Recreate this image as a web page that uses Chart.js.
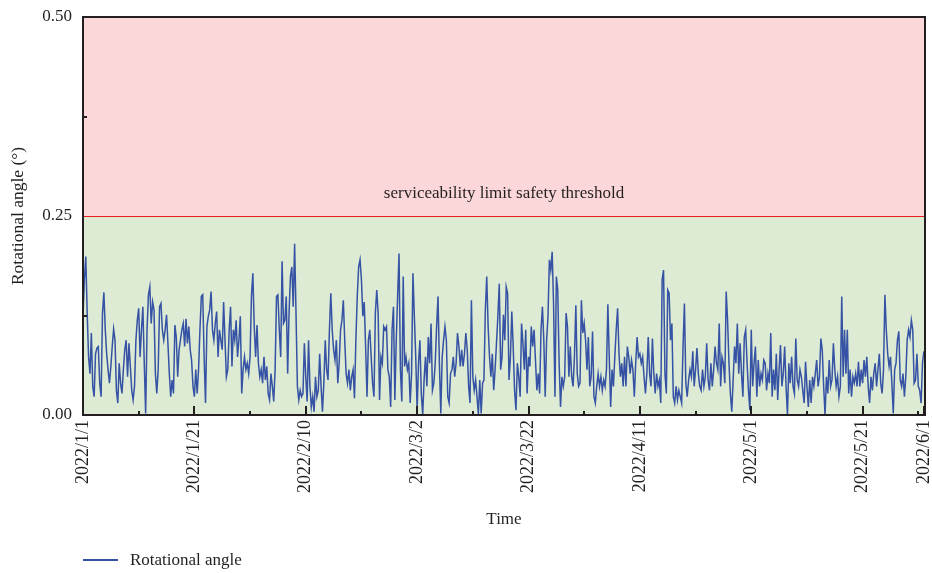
<!DOCTYPE html>
<html>
<head>
<meta charset="utf-8">
<script src="https://cdn.jsdelivr.net/npm/chart.js@4.4.1/dist/chart.umd.min.js"></script>
<style>
  body { margin: 0; background: #fff; }
  #wrap { position: relative; width: 932px; height: 573px; }
  #legend { position: absolute; left: 83px; top: 549px; height: 22px; font: 17px "Liberation Serif", serif; color: #231f20; display: flex; align-items: center; }
  #legend .line { display: inline-block; width: 35px; height: 2px; background: #3552a4; margin-right: 12px; }
</style>
</head>
<body>
<div id="wrap">
  <canvas id="myChart"></canvas>
  <div id="legend"><span class="line"></span>Rotational angle</div>
</div>
<script>
// sampled every 6 hours from 2022/1/1 00:00 to 2022/6/1 00:00
const sampleStepDays = 0.25;

const rotationalAngle = [
  // 2022/1/1 - 1/26
  0.124,0.170,0.199,0.128,0.073,0.052,0.103,0.036,0.023,0.077,
  0.084,0.086,0.040,0.023,0.128,0.154,0.107,0.077,0.057,0.040,
  0.061,0.086,0.108,0.094,0.031,0.015,0.065,0.040,0.027,0.057,
  0.082,0.094,0.048,0.090,0.061,0.031,0.019,0.036,0.094,0.119,
  0.134,0.073,0.107,0.136,0.065,0.002,0.107,0.151,0.161,0.115,
  0.142,0.132,0.052,0.027,0.057,0.136,0.140,0.107,0.094,0.107,
  0.126,0.090,0.052,0.023,0.044,0.027,0.113,0.098,0.048,0.082,
  0.094,0.107,0.115,0.086,0.121,0.090,0.111,0.082,0.069,0.036,
  0.023,0.057,0.027,0.057,0.107,0.149,0.151,0.073,0.015,0.111,
  0.124,0.132,0.155,0.107,0.094,0.115,0.130,0.073,0.107,0.094,
  // 1/26 - 2/20
  0.082,0.142,0.094,0.048,0.057,0.107,0.136,0.061,0.107,0.094,
  0.119,0.073,0.094,0.124,0.027,0.057,0.073,0.057,0.065,0.052,
  0.073,0.149,0.178,0.111,0.073,0.113,0.065,0.048,0.057,0.040,
  0.073,0.044,0.061,0.027,0.019,0.052,0.036,0.017,0.057,0.149,
  0.151,0.107,0.073,0.193,0.115,0.119,0.149,0.052,0.128,0.174,
  0.186,0.136,0.215,0.128,0.036,0.019,0.031,0.023,0.027,0.090,
  0.048,0.017,0.094,0.036,0.010,0.023,0.004,0.048,0.023,0.031,
  0.077,0.036,0.004,0.040,0.094,0.057,0.044,0.107,0.153,0.107,
  0.082,0.069,0.094,0.040,0.065,0.107,0.119,0.144,0.094,0.052,
  0.040,0.057,0.031,0.048,0.057,0.021,0.094,0.149,0.186,0.195,
  // 2/20 - 3/17
  0.170,0.124,0.142,0.086,0.023,0.094,0.107,0.073,0.040,0.023,
  0.128,0.157,0.128,0.019,0.073,0.065,0.111,0.107,0.111,0.057,
  0.048,0.010,0.107,0.136,0.019,0.094,0.149,0.203,0.057,0.017,
  0.174,0.061,0.073,0.057,0.065,0.015,0.052,0.178,0.124,0.073,
  0.006,0.065,0.094,0.027,0.000,0.044,0.073,0.036,0.098,0.065,
  0.115,0.031,0.040,0.065,0.111,0.149,0.065,0.002,0.073,0.094,
  0.111,0.094,0.023,0.015,0.052,0.057,0.073,0.048,0.065,0.103,
  0.086,0.061,0.082,0.061,0.077,0.103,0.082,0.036,0.015,0.144,
  0.048,0.031,0.044,0.023,0.001,0.044,0.002,0.040,0.044,0.132,
  0.174,0.111,0.073,0.048,0.077,0.031,0.057,0.090,0.124,0.165,
  // 3/17 - 4/11
  0.057,0.073,0.126,0.094,0.161,0.153,0.044,0.073,0.130,0.086,
  0.031,0.006,0.065,0.048,0.023,0.115,0.090,0.057,0.107,0.027,
  0.073,0.061,0.111,0.086,0.107,0.069,0.031,0.052,0.027,0.107,
  0.136,0.094,0.023,0.094,0.124,0.195,0.182,0.205,0.140,0.023,
  0.174,0.157,0.065,0.010,0.048,0.036,0.048,0.128,0.111,0.048,
  0.086,0.048,0.036,0.073,0.138,0.052,0.036,0.040,0.144,0.103,
  0.115,0.094,0.057,0.098,0.036,0.048,0.105,0.023,0.015,0.036,
  0.052,0.036,0.048,0.031,0.044,0.036,0.057,0.139,0.073,0.010,
  0.057,0.036,0.073,0.107,0.134,0.077,0.048,0.065,0.036,0.073,
  0.036,0.086,0.073,0.052,0.069,0.057,0.023,0.065,0.098,0.073,
  // 4/11 - 5/6
  0.077,0.065,0.073,0.048,0.027,0.052,0.098,0.052,0.036,0.096,
  0.052,0.027,0.052,0.036,0.044,0.015,0.170,0.182,0.052,0.027,
  0.157,0.153,0.094,0.115,0.023,0.015,0.036,0.019,0.031,0.023,
  0.015,0.086,0.140,0.040,0.023,0.044,0.057,0.048,0.080,0.036,
  0.057,0.084,0.052,0.036,0.031,0.057,0.036,0.048,0.090,0.044,
  0.031,0.065,0.036,0.057,0.086,0.065,0.057,0.115,0.036,0.073,
  0.065,0.040,0.155,0.119,0.065,0.027,0.004,0.044,0.086,0.065,
  0.115,0.052,0.090,0.052,0.023,0.098,0.107,0.065,0.031,0.006,
  0.107,0.036,0.065,0.086,0.023,0.069,0.036,0.052,0.044,0.069,
  0.065,0.031,0.052,0.040,0.103,0.023,0.057,0.031,0.077,0.019,
  // 5/6 - 6/1
  0.057,0.088,0.036,0.052,0.086,0.036,0.000,0.065,0.040,0.073,
  0.036,0.027,0.096,0.044,0.036,0.057,0.048,0.031,0.015,0.067,
  0.036,0.010,0.044,0.015,0.048,0.036,0.052,0.069,0.036,0.048,
  0.096,0.082,0.036,0.000,0.048,0.027,0.069,0.036,0.044,0.090,
  0.057,0.036,0.048,0.023,0.036,0.149,0.048,0.107,0.052,0.107,
  0.027,0.057,0.023,0.048,0.040,0.052,0.036,0.067,0.036,0.057,
  0.040,0.069,0.048,0.073,0.036,0.015,0.048,0.031,0.052,0.065,
  0.036,0.057,0.077,0.040,0.027,0.057,0.151,0.107,0.077,0.061,
  0.073,0.040,0.002,0.057,0.065,0.094,0.105,0.044,0.036,0.052,
  0.023,0.048,0.094,0.107,0.098,0.119,0.107,0.040,0.044,0.077,
  0.036,0.031,0.015,0.065,0.080
];

// x tick positions, in days after 2022/1/1
const tickDays = [0, 20, 40, 60, 80, 100, 120, 140, 151];
const tickLabels = ["2022/1/1", "2022/1/21", "2022/2/10", "2022/3/2", "2022/3/22",
                    "2022/4/11", "2022/5/1", "2022/5/21", "2022/6/1"];
const minorTickDays = [10, 30, 50, 70, 90, 110, 130, 150];
const yTicks = [0, 0.25, 0.5];
const yMinorTicks = [0.125, 0.375];

const threshold = 0.25;
const thresholdLabel = "serviceability limit safety threshold";

const ink = "#231f20";
const serif = '"Liberation Serif", "Times New Roman", serif';

Chart.defaults.font.family = serif;
Chart.defaults.font.size = 17;
Chart.defaults.color = ink;

const points = rotationalAngle.map((v, i) => ({ x: i * sampleStepDays, y: v }));

const zones = {
  id: "zones",
  beforeDatasetsDraw(chart) {
    const { ctx, chartArea: a, scales: { y } } = chart;
    const yT = Math.round(y.getPixelForValue(threshold)) + 0.5;
    ctx.save();
    ctx.fillStyle = "#fbd7da";
    ctx.fillRect(a.left, a.top, a.width, yT - a.top);
    ctx.fillStyle = "#ddebd4";
    ctx.fillRect(a.left, yT, a.width, a.bottom - yT);
    ctx.strokeStyle = "#ed1c24";
    ctx.lineWidth = 1;
    ctx.beginPath();
    ctx.moveTo(a.left, yT);
    ctx.lineTo(a.right, yT);
    ctx.stroke();
    ctx.fillStyle = ink;
    ctx.font = "17px " + serif;
    ctx.textAlign = "center";
    ctx.textBaseline = "middle";
    ctx.fillText(thresholdLabel, (a.left + a.right) / 2, yT - 23);
    ctx.restore();
  },
  afterDraw(chart) {
    const { ctx, chartArea: a, scales: { x, y } } = chart;
    ctx.save();
    ctx.strokeStyle = ink;
    ctx.lineWidth = 2;
    ctx.strokeRect(a.left, a.top, a.width, a.height);
    ctx.beginPath();
    tickDays.forEach(d => {
      const px = Math.round(x.getPixelForValue(d));
      ctx.moveTo(px, a.bottom); ctx.lineTo(px, a.bottom - 9);
    });
    minorTickDays.forEach(d => {
      const px = Math.round(x.getPixelForValue(d));
      ctx.moveTo(px, a.bottom); ctx.lineTo(px, a.bottom - 4);
    });
    yMinorTicks.forEach(v => {
      const py = Math.round(y.getPixelForValue(v));
      ctx.moveTo(a.left, py); ctx.lineTo(a.left + 4, py);
    });
    ctx.stroke();
    ctx.restore();
  }
};

const config = {
  type: "line",
  data: {
    datasets: [{
      label: "Rotational angle",
      data: points,
      borderColor: "#3552a4",
      borderWidth: 1.5,
      pointRadius: 0,
      tension: 0,
      fill: false
    }]
  },
  options: {
    responsive: true,
    maintainAspectRatio: false,
    animation: false,
    layout: { padding: { top: 17, right: 7, bottom: 43, left: 0 } },
    plugins: {
      legend: { display: false },
      tooltip: { enabled: false }
    },
    scales: {
      x: {
        type: "linear",
        min: 0,
        max: 151.2,
        grid: { display: false, drawTicks: false },
        border: { display: false },
        afterBuildTicks: s => { s.ticks = tickDays.map(v => ({ value: v })); },
        afterFit: s => { s.height = 115; s.paddingLeft = 0; s.paddingRight = 0; },
        ticks: {
          autoSkip: false,
          maxRotation: 90,
          minRotation: 90,
          padding: 5,
          font: { size: 18 },
          callback: (v, i) => tickLabels[i]
        },
        title: { display: true, text: "Time", padding: { top: 4, bottom: 0 } }
      },
      y: {
        min: 0,
        max: 0.5,
        grid: { display: false, drawTicks: false },
        border: { display: false },
        afterBuildTicks: s => { s.ticks = yTicks.map(v => ({ value: v })); },
        afterFit: s => { s.width = 83; s.paddingTop = 0; s.paddingBottom = 0; },
        ticks: {
          padding: 11,
          callback: v => v.toFixed(2)
        },
        title: { display: true, text: "Rotational angle (°)", font: { size: 17.5 }, padding: { top: 8, bottom: 4 } }
      }
    }
  },
  plugins: [zones]
};

const myChart = new Chart(document.getElementById("myChart"), config);
</script>
</body>
</html>
